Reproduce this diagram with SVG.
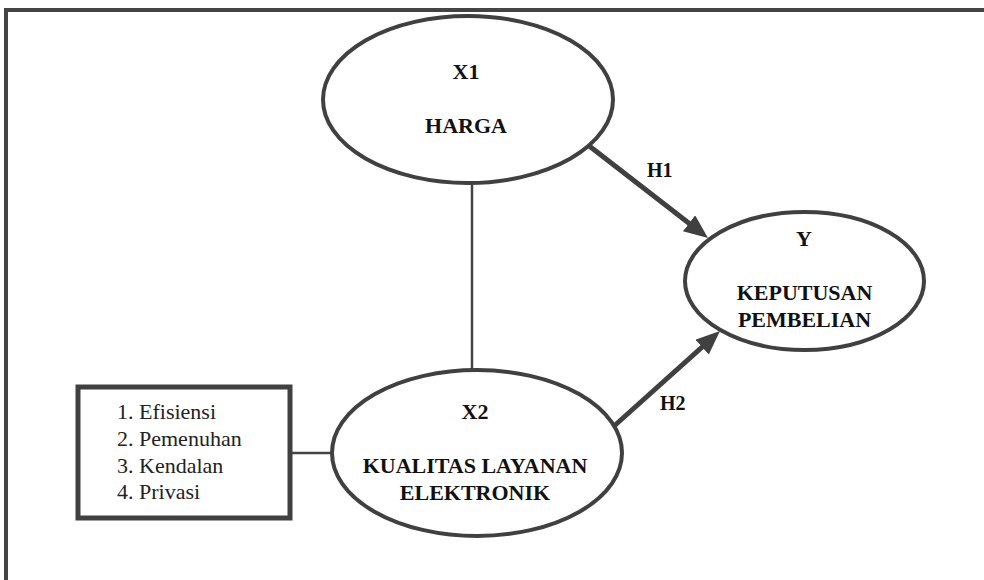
<svg xmlns="http://www.w3.org/2000/svg" width="984" height="580" viewBox="0 0 984 580">
  <style>
    .frame { fill: none; stroke: #444; stroke-width: 4; }
    .node { fill: #fff; stroke: #404040; stroke-width: 4; }
    .box { fill: #fff; stroke: #404040; stroke-width: 5; }
    text { font-family: 'Liberation Serif', 'DejaVu Serif', serif; }
    .lbl { font-weight: bold; font-size: 22px; fill: #111; text-anchor: middle; }
    .item { font-size: 22px; fill: #222; }
    .hl { font-weight: bold; font-size: 20px; fill: #111; }
    .thin { stroke: #444; stroke-width: 2.5; fill: none; }
    .thick { stroke: #404040; stroke-width: 5; fill: none; }
  </style>
  <defs>
    <marker id="arrow" markerUnits="userSpaceOnUse" markerWidth="26" markerHeight="22" refX="4" refY="10" orient="auto">
      <path d="M0,0 L24,10 L0,20 z" fill="#404040"/>
    </marker>
  </defs>
  <rect width="984" height="580" fill="#fff"/>
  <rect class="frame" x="6" y="10" width="1000" height="600"/>

  <g id="connectors">
    <line class="thin" x1="472" y1="183" x2="472" y2="370"/>
    <line class="thin" x1="291" y1="453" x2="332" y2="453"/>
    <line class="thick" x1="588" y1="145" x2="692.2" y2="225.7" marker-end="url(#arrow)"/>
    <line class="thick" x1="613" y1="427" x2="705.1" y2="344.4" marker-end="url(#arrow)"/>
    <text class="hl" x="647" y="177" font-family="Liberation Serif, serif">H1</text>
    <text class="hl" x="660" y="410" font-family="Liberation Serif, serif">H2</text>
  </g>

  <g id="x1">
    <ellipse class="node" cx="468" cy="99.5" rx="145" ry="83.5"/>
    <text class="lbl" x="466" y="79">X1</text>
    <text class="lbl" x="466" y="133">HARGA</text>
  </g>

  <g id="y">
    <ellipse class="node" cx="804.5" cy="281" rx="119.5" ry="69"/>
    <text class="lbl" x="804" y="246">Y</text>
    <text class="lbl" x="804.5" y="300">KEPUTUSAN</text>
    <text class="lbl" x="804.5" y="327">PEMBELIAN</text>
  </g>

  <g id="x2">
    <ellipse class="node" cx="477" cy="453" rx="145" ry="83"/>
    <text class="lbl" x="475" y="419">X2</text>
    <text class="lbl" x="475" y="473">KUALITAS LAYANAN</text>
    <text class="lbl" x="475" y="500">ELEKTRONIK</text>
  </g>

  <g id="indicators">
    <rect class="box" x="78" y="387" width="212" height="131"/>
    <text class="item" x="117" y="419">1. Efisiensi</text>
    <text class="item" x="117" y="446">2. Pemenuhan</text>
    <text class="item" x="117" y="473">3. Kendalan</text>
    <text class="item" x="117" y="499">4. Privasi</text>
  </g>
</svg>
